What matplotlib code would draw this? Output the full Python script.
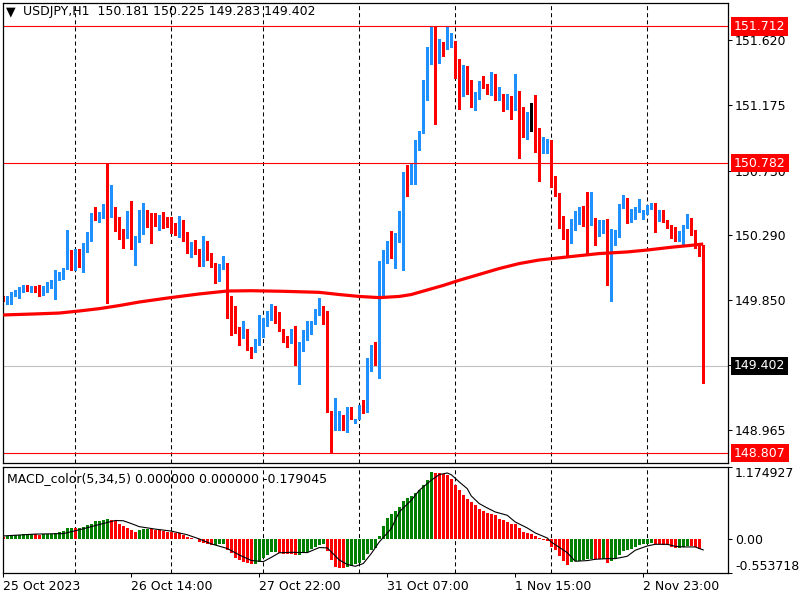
import numpy as np
import matplotlib
matplotlib.use('Agg')
import matplotlib.pyplot as plt
from matplotlib.transforms import blended_transform_factory

plt.rcParams['font.family'] = ['DejaVu Sans']
plt.rcParams['lines.scale_dashes'] = False

# ---------------- data (USDJPY H1, bar index 0 = 25 Oct 2023 06:00) ----------------
opens = [149.864,149.845,149.859,149.891,149.906,149.913,149.947,149.927,149.938,149.934,
         149.898,149.927,149.940,149.968,149.993,150.018,150.059,150.143,150.111,150.190,
         150.097,150.204,150.265,150.442,150.424,150.431,150.497,150.444,150.483,150.410,
         150.333,150.274,150.435,150.197,150.258,150.342,150.449,150.424,150.406,150.367,
         150.408,150.394,150.388,150.376,150.369,150.383,150.286,150.172,150.217,150.177,
         150.107,150.190,150.163,150.083,150.015,150.077,150.095,149.877,149.700,149.632,
         149.612,149.639,149.525,149.512,149.552,149.627,149.700,149.734,149.809,149.741,
         149.653,149.593,149.559,149.646,149.442,149.525,149.580,149.632,149.687,149.757,
         149.764,149.761,149.094,149.015,149.020,149.047,149.004,149.072,149.015,149.045,
         149.128,149.101,149.419,149.453,149.442,149.891,150.145,150.236,150.206,150.286,
         150.410,150.699,150.689,150.735,150.928,150.989,151.252,151.461,151.706,151.513,
         151.601,151.581,151.574,151.604,151.409,151.320,151.375,151.347,151.225,151.245,
         151.329,151.320,151.257,151.388,151.218,151.232,151.198,151.239,151.184,151.273,
         151.062,150.966,151.075,151.082,151.000,150.878,150.878,150.925,150.667,150.578,
         150.354,150.313,150.272,150.356,150.437,150.469,150.399,150.383,150.406,150.299,
         150.360,150.376,149.986,150.231,150.286,150.485,150.537,150.408,150.415,150.458,
         150.410,150.449,150.478,150.499,150.394,150.451,150.383,150.356,150.288,150.258,
         150.299,150.345,150.406,150.315,150.231,150.181]
highs = [149.877,149.877,149.906,149.920,149.940,149.952,149.952,149.947,149.947,149.952,
         149.945,149.972,149.988,150.054,150.040,150.070,150.326,150.192,150.199,150.195,
         150.236,150.313,150.444,150.481,150.449,150.505,150.782,150.633,150.483,150.417,
         150.333,150.456,150.524,150.286,150.463,150.512,150.463,150.440,150.440,150.429,
         150.449,150.417,150.417,150.376,150.422,150.397,150.315,150.245,150.258,150.195,
         150.286,150.254,150.170,150.100,150.095,150.149,150.100,149.880,149.809,149.668,
         149.707,149.655,149.530,149.582,149.748,149.725,149.775,149.823,149.812,149.770,
         149.655,149.605,149.653,149.673,149.566,149.646,149.707,149.707,149.789,149.864,
         149.809,149.775,149.094,149.183,149.094,149.067,149.120,149.124,149.040,149.135,
         149.169,149.453,149.544,149.564,150.118,150.190,150.252,150.320,150.304,150.456,
         150.721,150.769,150.784,150.939,151.000,151.347,151.574,151.712,151.712,151.627,
         151.608,151.712,151.665,151.612,151.488,151.450,151.443,151.350,151.266,151.341,
         151.375,151.322,151.400,151.390,151.300,151.252,151.252,151.241,151.388,151.275,
         151.164,151.130,151.191,151.245,151.021,150.959,150.946,150.939,150.694,150.580,
         150.422,150.333,150.401,150.458,150.485,150.490,150.583,150.583,150.410,150.394,
         150.394,150.401,150.331,150.326,150.503,150.563,150.544,150.469,150.481,150.537,
         150.465,150.497,150.508,150.508,150.463,150.463,150.394,150.360,150.345,150.320,
         150.360,150.433,150.408,150.326,150.240,150.225]
lows = [149.843,149.825,149.825,149.877,149.866,149.904,149.909,149.906,149.906,149.877,
        149.884,149.906,149.934,149.859,149.986,149.995,150.059,150.056,150.054,150.075,
        150.043,150.175,150.249,150.394,150.381,150.410,149.827,150.417,150.322,150.265,
        150.206,150.274,150.197,150.090,150.245,150.301,150.349,150.240,150.354,150.326,
        150.342,150.345,150.304,150.294,150.279,150.254,150.172,150.145,150.165,150.083,
        150.083,150.122,150.072,149.968,149.981,150.063,149.730,149.614,149.622,149.544,
        149.593,149.510,149.457,149.498,149.544,149.600,149.673,149.714,149.695,149.641,
        149.566,149.532,149.555,149.407,149.278,149.505,149.578,149.619,149.685,149.748,
        149.687,149.085,148.807,148.965,148.965,148.965,148.954,149.038,149.015,149.040,
        149.083,149.090,149.369,149.407,149.321,149.885,150.100,150.138,150.066,150.247,
        150.054,150.560,150.640,150.640,150.871,150.985,151.211,151.455,151.046,151.461,
        151.513,151.556,151.574,151.359,151.150,151.239,151.252,151.164,151.143,151.218,
        151.293,151.250,151.245,151.211,151.211,151.136,151.150,151.082,151.143,150.817,
        150.960,150.946,151.000,150.857,150.660,150.851,150.851,150.619,150.558,150.340,
        150.265,150.149,150.236,150.326,150.367,150.356,150.156,150.360,150.226,150.288,
        150.304,149.952,149.845,150.224,150.279,150.478,150.374,150.381,150.401,150.449,
        150.401,150.435,150.469,150.315,150.390,150.383,150.338,150.270,150.254,150.254,
        150.231,150.338,150.292,150.202,150.149,149.283]
closes = [149.850,149.866,149.898,149.913,149.923,149.947,149.934,149.940,149.927,149.900,
          149.930,149.947,149.972,150.000,150.020,150.061,150.279,150.124,150.190,150.097,
          150.211,150.270,150.437,150.424,150.442,150.497,150.444,150.483,150.403,150.326,
          150.274,150.435,150.197,150.258,150.354,150.449,150.417,150.401,150.367,150.401,
          150.394,150.356,150.367,150.369,150.383,150.279,150.172,150.224,150.172,150.102,
          150.197,150.158,150.077,150.015,150.081,150.088,149.872,149.700,149.627,149.612,
          149.639,149.521,149.512,149.555,149.653,149.707,149.741,149.809,149.732,149.646,
          149.584,149.559,149.646,149.442,149.532,149.584,149.639,149.693,149.761,149.770,
          149.757,149.088,149.015,149.026,149.047,149.000,149.062,149.060,149.040,149.128,
          149.101,149.423,149.460,149.437,149.902,150.149,150.236,150.202,150.286,150.415,
          150.694,150.689,150.742,150.932,150.994,151.268,151.465,151.710,151.513,151.601,
          151.581,151.710,151.620,151.397,151.320,151.375,151.341,151.218,151.252,151.329,
          151.313,151.252,151.381,151.218,151.232,151.198,151.241,151.184,151.273,151.055,
          150.966,151.082,151.075,150.994,150.871,150.946,150.912,150.660,150.571,150.347,
          150.299,150.265,150.360,150.444,150.469,150.394,150.388,150.410,150.301,150.360,
          150.376,149.986,150.238,150.292,150.490,150.537,150.410,150.422,150.463,150.490,
          150.458,150.481,150.499,150.394,150.444,150.399,150.349,150.281,150.258,150.315,
          150.349,150.410,150.299,150.231,150.181,149.402]

# moving average (red line), read at selected bars
ma_idx = [0, 8, 14, 19, 24, 29, 34, 41, 49, 56, 62, 70, 79, 84, 89, 94, 99, 102, 106,
          110, 114, 119, 124, 129, 134, 141, 149, 156, 161, 167, 172, 175]
ma_val = [149.748, 149.755, 149.761, 149.775, 149.791, 149.812, 149.836, 149.863, 149.891,
          149.911, 149.913, 149.909, 149.902, 149.887, 149.874, 149.866, 149.874, 149.887,
          149.918, 149.949, 149.984, 150.024, 150.064, 150.098, 150.122, 150.143, 150.166,
          150.177, 150.190, 150.209, 150.222, 150.231]

# MACD_color(5,34,5) histogram
macd_hist = [0.038,0.049,0.054,0.060,0.070,0.081,0.082,0.084,0.076,0.070,
             0.076,0.081,0.087,0.098,0.108,0.130,0.170,0.185,0.176,0.180,
             0.190,0.222,0.249,0.287,0.298,0.314,0.320,0.304,0.293,0.249,
             0.206,0.184,0.146,0.119,0.152,0.163,0.165,0.157,0.146,0.141,
             0.130,0.119,0.108,0.103,0.092,0.065,0.033,0.011,-0.005,-0.043,
             -0.065,-0.076,-0.098,-0.092,-0.090,-0.087,-0.173,-0.233,-0.314,-0.341,
             -0.369,-0.396,-0.412,-0.400,-0.369,-0.314,-0.260,-0.217,-0.206,-0.235,
             -0.245,-0.250,-0.252,-0.262,-0.255,-0.230,-0.206,-0.168,-0.136,-0.098,
             -0.081,-0.195,-0.341,-0.450,-0.466,-0.477,-0.460,-0.440,-0.410,-0.385,
             -0.345,-0.250,-0.180,-0.140,0.050,0.206,0.341,0.401,0.450,0.520,
             0.612,0.667,0.694,0.753,0.791,0.883,0.954,1.089,1.073,1.070,
             1.062,1.046,0.981,0.883,0.791,0.721,0.656,0.602,0.547,0.493,
             0.450,0.428,0.412,0.385,0.320,0.304,0.276,0.249,0.238,0.184,
             0.114,0.098,0.087,0.049,0.011,-0.011,-0.038,-0.125,-0.184,-0.276,
             -0.363,-0.417,-0.374,-0.358,-0.352,-0.336,-0.334,-0.320,-0.322,-0.325,
             -0.320,-0.385,-0.358,-0.320,-0.266,-0.200,-0.179,-0.157,-0.130,-0.103,
             -0.081,-0.080,-0.070,-0.081,-0.087,-0.092,-0.103,-0.135,-0.146,-0.143,
             -0.125,-0.114,-0.119,-0.135,-0.168,np.nan]

# signal line read at selected bars
sig_idx = [0, 8, 15, 20, 24, 28, 30, 32, 34, 38, 42, 46, 49, 52, 56, 59, 62, 65, 67, 69,
           72, 76, 79, 81, 82, 84, 86, 88, 90, 92, 94, 97, 99, 102, 104, 107, 109, 111, 112,
           114, 116, 117, 119, 121, 123, 126, 128, 131, 133, 136, 137, 141, 143, 146, 148,
           151, 153, 156, 158, 161, 163, 166, 168, 170, 173, 175]
sig_val = [0.049, 0.079, 0.087, 0.165, 0.235, 0.300, 0.296, 0.250, 0.200, 0.160, 0.128,
           0.068, 0.000, -0.080, -0.155, -0.260, -0.350, -0.369, -0.300, -0.225, -0.217,
           -0.222, -0.140, -0.145, -0.210, -0.341, -0.415, -0.445, -0.400, -0.238, -0.049,
           0.168, 0.439, 0.629, 0.791, 0.954, 1.046, 1.073, 1.045, 0.927, 0.818, 0.700,
           0.575, 0.504, 0.439, 0.385, 0.276, 0.179, 0.098, 0.016, -0.049, -0.222, -0.363,
           -0.352, -0.331, -0.320, -0.320, -0.282, -0.184, -0.114, -0.087, -0.087, -0.119,
           -0.130, -0.130, -0.179]

red_levels = [151.712, 150.782, 148.807]
bid_level = 149.402
price_ticks = [151.620, 151.175, 150.730, 150.290, 149.850, 149.410, 148.965]
time_idx = [0, 32, 64, 96, 128, 160]
time_labels = ['25 Oct 2023', '26 Oct 14:00', '27 Oct 22:00', '31 Oct 07:00',
               '1 Nov 15:00', '2 Nov 23:00']
grid_idx = [18, 42, 65, 89, 113, 137, 161]
header = 'USDJPY,H1  150.181 150.225 149.283 149.402'
macd_header = 'MACD_color(5,34,5) 0.000000 0.000000 -0.179045'
macd_max, macd_min = 1.174927, -0.553718

# ---------------- figure ----------------
W, H = 800, 600
fig = plt.figure(figsize=(8, 6), dpi=100)
fig.patch.set_facecolor('white')
ax = fig.add_axes([3 / W, 1 - 463 / H, 725 / W, (463 - 2.7) / H])
ax2 = fig.add_axes([3 / W, 1 - 573 / H, 725 / W, (573 - 466.7) / H])

o = np.array(opens); h = np.array(highs); l = np.array(lows); c = np.array(closes)
x = np.arange(len(o))
cols = np.where(c > o, '#1E90FF', np.where(c < o, '#FF0000', '#000000'))

xlim = (-0.075, 181.2)
fs = 9

# grid
for ga in (ax, ax2):
    for g in grid_idx:
        ga.axvline(g, color='black', lw=0.75, ls=(0, (2.9, 2.2)), zorder=0.5)

# candles
ax.vlines(x, l, h, colors=cols, lw=0.9, antialiased=False, zorder=2)
body = np.maximum(np.abs(c - o), 0.004)
ax.bar(x, body, bottom=np.minimum(o, c), width=0.72, color=cols, linewidth=0,
       antialiased=False, zorder=2.1)

# moving average
ax.plot(ma_idx, ma_val, color='#FF0000', lw=2.3, zorder=3, solid_capstyle='butt')

# horizontal levels
for lv in red_levels:
    ax.axhline(lv, color='#FF0000', lw=0.8, zorder=2.5)
ax.axhline(bid_level, color='#C0C0C0', lw=0.8, zorder=1)

ax.set_xlim(*xlim)
ax.set_ylim(148.740, 151.874)
ax.set_xticks([])
ax.yaxis.tick_right()
ax.set_yticks(price_ticks)
ax.set_yticklabels(['%.3f' % t for t in price_ticks], fontsize=fs)
ax.tick_params(axis='y', length=3, width=0.75, pad=2, colors='black')
for s in ax.spines.values():
    s.set_linewidth(0.9)

trans = blended_transform_factory(ax.transAxes, ax.transData)
for lv in red_levels:
    ax.text(1.0085, lv, '%.3f' % lv, transform=trans, fontsize=fs, color='white',
            va='center', ha='left', zorder=10, clip_on=False,
            bbox=dict(boxstyle='square,pad=0.22', facecolor='#FF0000', edgecolor='none'))
ax.text(1.0085, bid_level, '%.3f' % bid_level, transform=trans, fontsize=fs, color='white',
        va='center', ha='left', zorder=10, clip_on=False,
        bbox=dict(boxstyle='square,pad=0.22', facecolor='#000000', edgecolor='none'))

# header
fig.text(6 / W, 1 - 12 / H, '\u25BC', fontsize=9, va='center', ha='left')
fig.text(23 / W, 1 - 12 / H, header, fontsize=fs, va='center', ha='left')

# ---------------- MACD panel ----------------
hv = np.array(macd_hist, dtype=float)
mcols = ['#FF0000']
for i in range(1, len(hv)):
    mcols.append('#008000' if hv[i] > hv[i - 1] else '#FF0000')
ax2.bar(x, np.nan_to_num(hv), width=0.66, color=mcols, linewidth=0, antialiased=False, zorder=2)
ax2.plot(sig_idx, sig_val, color='black', lw=0.8, zorder=3)
ax2.set_xlim(*xlim)
ax2.set_ylim(macd_min, macd_max)
ax2.yaxis.tick_right()
ax2.set_yticks([macd_max, 0.0, macd_min])
ax2.set_yticklabels(['%.6f' % macd_max, '0.00', '%.6f' % macd_min], fontsize=fs)
yl = ax2.get_yticklabels()
yl[0].set_va('top')
yl[2].set_va('bottom')
ax2.tick_params(axis='y', length=3, width=0.75, pad=2)
ax2.set_xticks(time_idx)
ax2.set_xticklabels(time_labels, fontsize=fs, ha='left')
ax2.tick_params(axis='x', length=3, width=0.75, pad=2)
for s in ax2.spines.values():
    s.set_linewidth(0.9)
fig.text(7 / W, 1 - 479 / H, macd_header, fontsize=fs, va='center', ha='left')

fig.savefig('out.png', dpi=100, facecolor='white')
